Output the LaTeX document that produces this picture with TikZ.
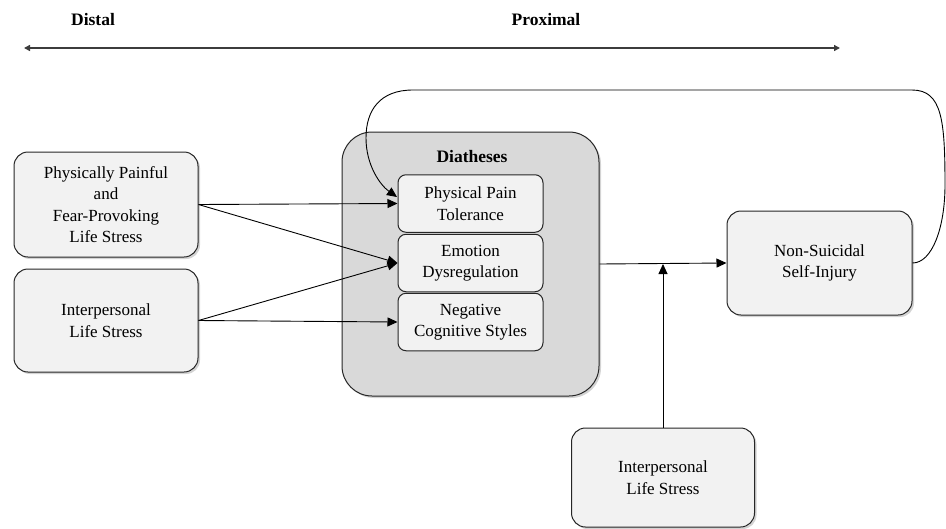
\documentclass[tikz,border=0pt]{standalone}
\usepackage{fontspec}
\setmainfont{Liberation Serif}
\usetikzlibrary{arrows.meta,shadows}
\definecolor{boxfill}{HTML}{F2F2F2}
\definecolor{bigfill}{HTML}{D9D9D9}
\definecolor{edge}{HTML}{262626}
\tikzset{
  lbl/.style={font=\fontsize{17}{21.5}\selectfont, align=center},
  hdr/.style={font=\fontsize{17.5}{20}\selectfont\bfseries, align=center},
  boxbase/.style={draw=edge, line width=1pt, fill=boxfill, inner sep=0pt, lbl,
     drop shadow={shadow xshift=2pt, shadow yshift=-2pt, opacity=0.35, fill=gray}},
  outerbox/.style={boxbase, rounded corners=14pt},
  innerbox/.style={draw=edge, line width=1pt, fill=boxfill, inner sep=0pt, lbl, rounded corners=8pt,
     minimum width=145pt, minimum height=57.5pt},
  bigbox/.style={boxbase, fill=bigfill, rounded corners=30pt},
  arr/.style={draw=black, line width=0.9pt, -{Triangle[length=10pt,width=9pt]}},
  scalearr/.style={draw=edge!90, line width=2.2pt, {Triangle[length=6pt,width=6pt]}-{Triangle[length=6pt,width=6pt]}}
}
\begin{document}
\begin{tikzpicture}[x=1pt,y=-1pt]
\useasboundingbox (0,0) rectangle (946,528);
% timeline
\node[hdr] (distal) at (93,20) {Distal};
\node[hdr] (proximal) at (546,20) {Proximal};
\coordinate (tl) at (24,48);
\coordinate (tr) at (840,48);
\draw[scalearr] (tl) -- (tr);

% left boxes
\node[outerbox, minimum width=184pt, minimum height=105pt] (ppf) at (106,204.5)
  {Physically Painful\\and\\Fear-Provoking\\Life Stress};
\node[outerbox, minimum width=184pt, minimum height=103pt] (ils1) at (106,320.5)
  {Interpersonal\\Life Stress};

% diatheses
\node[bigbox, minimum width=257pt, minimum height=264pt] (big) at (470.5,264) {};
\node[hdr] (dtitle) at (472,157) {Diatheses};
\node[innerbox] (ppt) at (470.5,203.5) {Physical Pain\\Tolerance};
\node[innerbox] (emo) at (470.5,263) {Emotion\\Dysregulation};
\node[innerbox] (neg) at (470.5,322) {Negative\\Cognitive Styles};

% outcome
\node[outerbox, minimum width=185pt, minimum height=104pt] (nssi) at (819.5,263)
  {Non-Suicidal\\Self-Injury};
\node[outerbox, minimum width=183pt, minimum height=99pt] (ils2) at (663,477.5)
  {Interpersonal\\Life Stress};

% arrows
\draw[arr] (ppf.east) -- (ppt.west);
\draw[arr] (ppf.east) -- (emo.west);
\draw[arr] (ils1.east) -- (emo.west);
\draw[arr] (ils1.east) -- (neg.west);
\draw[arr] (big.east) -- (nssi.west);
\coordinate (junc) at (ils2.north |- big.east);
\draw[arr] (ils2.north) -- (junc);

% feedback loop
\coordinate (pptin) at (397,197);
\draw[arr] (nssi.east) .. controls (932,263) and (945,228) .. (945,185)
  .. controls (945,120) and (942,90) .. (912,90) -- (413,90)
  .. controls (380,90) and (366,110) .. (366,138)
  .. controls (366,165) and (380,185) .. (pptin);
\end{tikzpicture}
\end{document}
